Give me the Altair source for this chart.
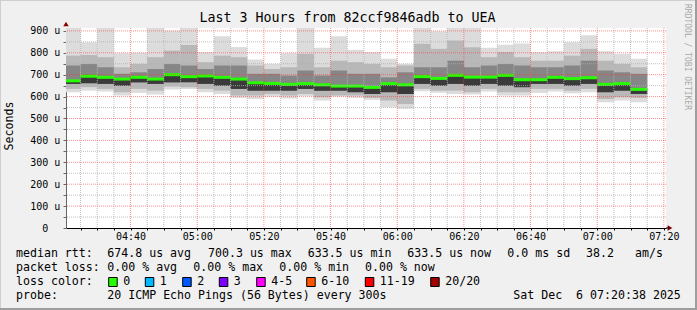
import altair as alt
import pandas as pd

# ---------------- data ----------------
slot_first = 260          # 04:20 in minutes after midnight
slot_step = 5             # 5-minute steps
median_us = [672, 693, 688, 680, 688, 680, 700, 691, 694, 688, 680, 663, 660, 656, 659, 654, 648, 648,
             642, 659, 654, 691, 683, 697, 689, 689, 697, 677, 677, 688, 682, 686, 656, 659, 633]
max_us = [915, 848, 915, 798, 800, 915, 901, 915, 803, 875, 826, 769, 749, 798, 915, 823, 875, 813,
          803, 773, 749, 915, 898, 915, 915, 823, 837, 842, 803, 807, 848, 880, 807, 795, 773]
hi2_us = [787, 790, 780, 734, 749, 780, 810, 836, 757, 787, 780, 742, 726, 734, 795, 734, 764, 757,
          749, 734, 742, 841, 818, 856, 825, 780, 803, 780, 764, 764, 787, 818, 764, 749, 734]
hi3_us = [742, 749, 734, 704, 711, 726, 749, 742, 726, 742, 742, 704, 704, 696, 719, 696, 719, 704,
          704, 688, 711, 734, 734, 764, 734, 742, 749, 742, 734, 734, 742, 764, 719, 711, 704]
lo4_us = [658, 661, 658, 650, 665, 658, 665, 665, 658, 650, 635, 627, 627, 627, 635, 627, 627, 620,
          612, 620, 612, 658, 650, 658, 650, 658, 650, 643, 658, 658, 650, 658, 620, 627, 612]
lo3_us = [635, 643, 635, 620, 635, 627, 646, 643, 635, 627, 605, 605, 612, 605, 612, 597, 605, 605,
          594, 582, 566, 635, 627, 627, 620, 635, 620, 620, 635, 635, 627, 635, 589, 597, 594]
min_us = [620, 627, 623, 605, 617, 609, 632, 635, 620, 612, 594, 589, 600, 591, 603, 582, 600, 594,
          585, 551, 544, 624, 617, 612, 609, 623, 605, 605, 617, 623, 615, 620, 574, 582, 574]

x_domain = [260 + 38 / 60, 440 + 38 / 60]      # 04:20:38 .. 07:20:38
y_max = 913.2
y_major = [100, 200, 300, 400, 500, 600, 700, 800, 900]
y_minor = [50, 150, 250, 350, 450, 550, 650, 750, 850]
t_major = [280, 300, 320, 340, 360, 380, 400, 420, 440]

title_text = "Last 3 Hours from 82ccf9846adb to UEA"
rtt_items = ["674.8 us avg", "700.3 us max", "633.5 us min", "633.5 us now", "0.0 ms sd", "38.2", "am/s"]
loss_items = ["0.00 % avg", "0.00 % max", "0.00 % min", "0.00 % now"]
loss_labels = ["0", "1", "2", "3", "4-5", "6-10", "11-19", "20/20"]
loss_colors = ["#26ff00", "#00b8ff", "#0059ff", "#7e00ff", "#ff00ff", "#ff5500", "#ff0000", "#a10000"]
probe_text = "20 ICMP Echo Pings (56 Bytes) every 300s"
date_text = "Sat Dec\u00a0\u00a06 07:20:38 2025"

# ---------------- tables ----------------
n = len(median_us)
rows = []
bands = [("b1", min_us, max_us), ("b2", lo3_us, hi2_us), ("b3", lo4_us, hi3_us), ("b4", lo4_us, median_us)]
for name, lo, hi in bands:
    for k in range(n):
        t0 = slot_first + slot_step * k
        rows.append(dict(t0=t0, t1=t0 + slot_step, lo=lo[k], hi=hi[k], band=name))
smoke = pd.DataFrame(rows)
med = pd.DataFrame(dict(t0=[slot_first + slot_step * k for k in range(n)],
                        t1=[slot_first + slot_step * (k + 1) for k in range(n)],
                        m=median_us))

minor_t = [t for t in range(slot_first + slot_step, 441, slot_step) if t not in t_major]
all_t = list(range(slot_first + slot_step, 441, slot_step))

FONT = "DejaVu Sans Mono"
W, H = 600, 200
xs = alt.Scale(domain=x_domain, nice=False, zero=False)
ys = alt.Scale(domain=[0, y_max], nice=False, zero=True)

x_label_expr = ("datum.value % 20 == 0 ? ((floor(datum.value/60) < 10 ? '0' : '') + floor(datum.value/60) + ':' + "
                "(datum.value % 60 < 10 ? '0' : '') + (datum.value % 60)) : ''")
y_label_expr = "datum.value % 100 != 0 ? '' : (datum.value == 0 ? '0' : datum.value + ' u')"

X_AXIS = alt.Axis(values=all_t, labelExpr=x_label_expr, tickSize=2, tickColor="#000",
                  domainColor="#000", labelFont=FONT, labelFontSize=10, labelColor="#000",
                  labelPadding=6, labelBaseline="middle", labelOverlap=False, labelFlush=False,
                  grid=False, labelBound=False, title=None)
Y_AXIS = alt.Axis(values=[0] + y_minor + y_major, labelExpr=y_label_expr, tickSize=3,
                  tickColor="#666", domainColor="#666", labelFont=FONT, labelFontSize=10,
                  labelColor="#000", labelAlign="center", labelPadding=18.3,
                  labelBaseline="middle", labelOverlap=False, labelFlush=False, grid=False,
                  labelBound=False, title=None)


def X(f):
    return alt.X(f, scale=xs, axis=X_AXIS, title=None)


def Y(f):
    return alt.Y(f, scale=ys, axis=Y_AXIS, title=None)


smoke_layer = alt.Chart(smoke).mark_rect(clip=True).encode(
    x=X("t0:Q"), x2="t1:Q", y=Y("lo:Q"), y2="hi:Q",
    color=alt.Color("band:N", scale=alt.Scale(domain=["b1", "b2", "b3", "b4"],
                                              range=["#dcdcdc", "#b8b8b8", "#868686", "#3a3a3a"]),
                    legend=None),
)

med_layer = alt.Chart(med).mark_rule(strokeWidth=3, color="#26ff00", clip=True).encode(
    x=X("t0:Q"), x2="t1:Q", y=Y("m:Q"))


def vrules(vals, color, op):
    return alt.Chart(pd.DataFrame(dict(t=vals))).mark_rule(
        color=color, opacity=op, strokeDash=[1, 1], strokeWidth=1).encode(x=X("t:Q"))


def hrules(vals, color, op):
    return alt.Chart(pd.DataFrame(dict(v=vals))).mark_rule(
        color=color, opacity=op, strokeDash=[1, 1], strokeWidth=1).encode(y=Y("v:Q"))


grid = [vrules(minor_t, "#b0b0b0", 0.8), hrules(y_minor, "#b0b0b0", 0.8),
        vrules(t_major, "#ff3030", 0.55), hrules(y_major, "#ff3030", 0.55)]

one = pd.DataFrame(dict(a=[0]))


def txt(s, x, y, size=11.6, align="left", color="#000", angle=0, baseline="middle"):
    kw = dict(font=FONT, fontSize=size, align=align, baseline=baseline, color=color)
    if angle:
        kw["angle"] = angle
    return alt.Chart(one).mark_text(**kw).encode(x=alt.value(x), y=alt.value(y), text=alt.value(s))


def box(x0, x1, y0, y1, fill, stroke=None):
    kw = dict(fill=fill)
    if stroke:
        kw.update(stroke=stroke, strokeWidth=1)
    return alt.Chart(one).mark_rect(**kw).encode(x=alt.value(x0), x2=alt.value(x1),
                                                  y=alt.value(y0), y2=alt.value(y1))


deco = []
# frame
deco += [box(-66, 631, -28, -27, "#cfcfcf"), box(-66, -65, -28, 282, "#cfcfcf"),
         box(629, 631, -28, 282, "#9e9e9e"), box(-66, 631, 280, 282, "#9e9e9e")]
# title / axis title / watermark
deco.append(txt(title_text, 281.5, -10, size=13.3, align="center"))
deco.append(txt("Seconds", -56, 98, size=11.6, align="center", angle=270))
deco.append(txt("RRDTOOL / TOBI OETIKER", 621, 29, size=8, align="center", color="#aaaaaa", angle=90))
# arrows
deco.append(alt.Chart(one).mark_point(shape="triangle-up", filled=True, color="#8b0000", size=30, opacity=1)
            .encode(x=alt.value(0), y=alt.value(-4)))
deco.append(alt.Chart(one).mark_point(shape="triangle-right", filled=True, color="#8b0000", size=30, opacity=1)
            .encode(x=alt.value(604), y=alt.value(200)))
deco.append(box(600, 603, 199.5, 200.5, "#000"))

# legend
L1, L2, L3, L4 = 226.3, 240.3, 254.0, 268.3
deco.append(txt("median rtt:", -50, L1))
for s, x in zip(rtt_items, [41.3, 142, 241.7, 341.3, 441.3, 520, 569]):
    deco.append(txt(s.replace(" ", "\u00a0"), x, L1))
deco.append(txt("packet loss:", -50, L2))
for s, x in zip(loss_items, [41.3, 127.3, 213.3, 299]):
    deco.append(txt(s.replace(" ", "\u00a0"), x, L2))
deco.append(txt("loss color:", -50, L3))
for lab, col, bx in zip(loss_labels, loss_colors, [42.7, 79.3, 116.7, 153.3, 190.7, 240.7, 299.3, 364.7]):
    deco.append(box(bx, bx + 8.5, L3 - 4.5, L3 + 4.5, col, "#000"))
    deco.append(txt(lab, bx + 14.5, L3))
deco.append(txt("probe:", -50, L4))
deco.append(txt(probe_text.replace(" ", "\u00a0"), 41.3, L4))
deco.append(txt(date_text.replace(" ", "\u00a0"), 447.3, L4))

chart = alt.layer(smoke_layer, med_layer, *grid, *deco).properties(
    width=W, height=H,
    autosize=alt.AutoSizeParams(type="none"),
    padding={"left": 66, "top": 28, "right": 31, "bottom": 82},
    background="#f0f0f0",
).configure_view(stroke=None, fill="#ffffff").configure_axis(domainWidth=1)

chart.save("out.html", embed_options={"renderer": "svg", "actions": False})
